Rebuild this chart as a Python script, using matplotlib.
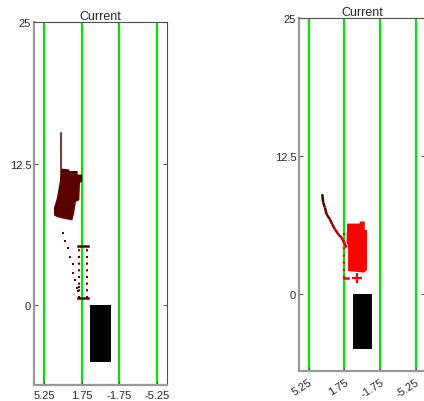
import numpy as np
import matplotlib
matplotlib.use("Agg")
import matplotlib.pyplot as plt
from matplotlib.patches import Polygon, Rectangle
from matplotlib.collections import LineCollection
from matplotlib.colors import to_rgb

plt.rcParams["font.family"] = ["Liberation Sans", "DejaVu Sans"]

# lane markings and ego vehicle
lane_x = [5.25, 1.75, -1.75, -5.25]
lane_labels = ["5.25", "1.75", "-1.75", "-5.25"]
y_ticks = [0, 12.5, 25]
y_labels = ["0", "12.5", "25"]
ego_x = [-0.95, 0.95]
ego_y = [-5.0, 0.0]

# left panel: swept footprint of the target vehicle
left_blob_x = [3.62, 2.91, 2.91, 2.13, 2.13, 1.70, 1.70, 1.91, 1.98, 2.29,
               2.47, 2.63, 3.47, 4.08, 4.34, 4.34, 4.08, 3.94, 3.78]
left_blob_y = [12.07, 12.00, 11.86, 11.86, 11.54, 11.54, 10.89, 10.83, 9.27,
               9.15, 8.09, 7.50, 7.65, 7.80, 7.94, 8.60, 9.42, 10.15, 11.03]
left_stem_x = [3.71, 3.71]
left_stem_y = [11.0, 15.2]
left_trail_x = [3.53, 3.31, 3.06, 2.82, 2.59, 2.59, 2.37, 2.16, 2.06, 2.00]
left_trail_y = [6.39, 5.71, 5.07, 4.27, 3.62, 2.86, 2.20, 1.54, 1.30, 1.60]
left_band_x = [2.01, 1.23]
left_band_y = [0.68, 5.24]

# right panel: predicted footprint and path
right_blob_x = [1.48, 0.24, 0.24, -0.25, -0.25, -0.47, -0.47, -0.18, 1.39,
                1.39, 1.54]
right_blob_y = [6.36, 6.36, 6.55, 6.55, 5.78, 5.78, 2.15, 1.91, 2.05, 4.33,
                4.64]
right_path_x = [3.92, 3.83, 3.66, 3.50, 3.17, 2.95, 2.68, 2.35, 2.03, 1.78,
                1.54]
right_path_y = [9.03, 8.27, 7.82, 7.21, 6.75, 6.30, 5.85, 5.39, 5.09, 4.64,
                4.18]
right_band_x = [1.77, 1.40]
right_band_y = [1.45, 5.69]
right_goal = (0.52, 1.45)

dark_red = "#5b0000"
red = "#ff0000"
green = "#00e600"
text_col = "#262626"


def style_axes(ax, rotate=False):
    ax.set_xlim(6.2, -6.2)
    ax.set_ylim(-7, 25)
    for x in lane_x:
        ax.axvline(x, color=green, lw=1.6, zorder=1)
    ax.add_patch(Rectangle((ego_x[0], ego_y[0]), ego_x[1] - ego_x[0],
                           ego_y[1] - ego_y[0], facecolor="black",
                           edgecolor="none", zorder=3))
    ax.set_xticks(lane_x)
    ax.set_yticks(y_ticks)
    ax.set_yticklabels(y_labels)
    if rotate:
        ax.set_xticklabels(lane_labels, rotation=33, ha="right",
                           rotation_mode="anchor")
        ax.tick_params(axis="x", pad=4)
    else:
        ax.set_xticklabels(lane_labels)
    ax.tick_params(direction="in", length=3, width=0.8, colors="#555555",
                   labelcolor=text_col, labelsize=8, top=False, right=True)
    ax.tick_params(axis="y", pad=2)
    ax.spines["left"].set_color("#9a9a9a")
    ax.spines["bottom"].set_color("#9a9a9a")
    ax.spines["left"].set_linewidth(1.6)
    ax.spines["bottom"].set_linewidth(1.6)
    ax.spines["top"].set_color("#505050")
    ax.spines["right"].set_color("#505050")
    ax.set_title("Current", fontsize=9, color=text_col, pad=2)


fig = plt.figure(figsize=(4.24, 4.02), dpi=100)

# left panel
ax1 = fig.add_axes([0.0802, 0.0405, 0.3137, 0.9022])
style_axes(ax1)
ax1.add_patch(Polygon(np.column_stack([left_blob_x, left_blob_y]),
                      closed=True, facecolor=dark_red, edgecolor="none",
                      zorder=4))
ax1.plot(left_stem_x, left_stem_y, color=dark_red, lw=1.1, zorder=4)
ax1.plot(left_trail_x, left_trail_y, ls="none", marker="s", ms=1.7, mew=0,
         color=dark_red, zorder=4)
for bx in left_band_x:
    ax1.plot([bx, bx], left_band_y, ls=(0, (1, 2.2)), lw=1.5,
             color=dark_red, zorder=4)
for by in left_band_y:
    ax1.plot([left_band_x[0] + 0.06, left_band_x[1] - 0.09], [by, by],
             color=dark_red, lw=1.8, zorder=4)

# right panel
ax2 = fig.add_axes([0.7052, 0.0754, 0.2983, 0.8766])
style_axes(ax2, rotate=True)
ax2.add_patch(Polygon(np.column_stack([right_blob_x, right_blob_y]),
                      closed=True, facecolor=red, edgecolor="none",
                      zorder=4))
pts = np.column_stack([right_path_x, right_path_y])
segs = np.stack([pts[:-1], pts[1:]], axis=1)
c0, c1 = np.array(to_rgb("#3a0000")), np.array(to_rgb("#e00000"))
seg_cols = [c0 + (c1 - c0) * t for t in np.linspace(0, 1, len(segs))]
ax2.add_collection(LineCollection(segs, colors=seg_cols, linewidths=1.8,
                                  zorder=5))
ax2.plot([right_band_x[0], right_band_x[0]], right_band_y,
         ls=(0, (1, 2.2)), lw=1.6, color=red, zorder=4)
ax2.plot(right_band_x, [right_band_y[0], right_band_y[0]], color=red,
         lw=1.8, zorder=4)
ax2.plot(*right_goal, marker="+", ms=7, mew=1.6, color=red, zorder=5)

fig.savefig("out.png", dpi=100)
